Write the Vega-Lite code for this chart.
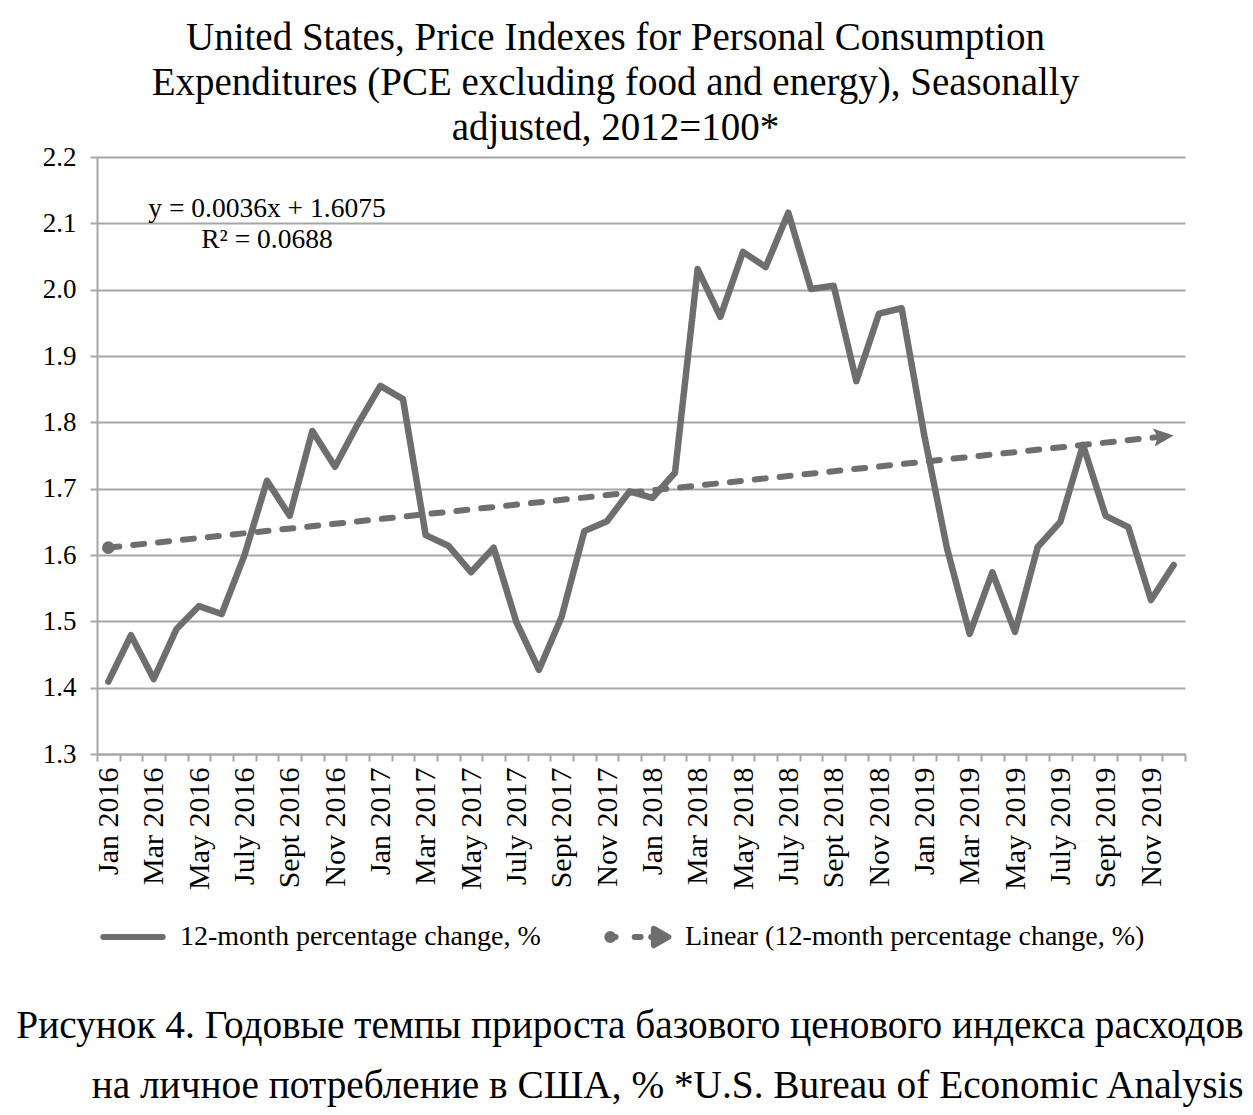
{
  "$schema": "https://vega.github.io/schema/vega-lite/v6.json",
  "background": "white",
  "padding": {"left": 16, "top": 19, "right": 10, "bottom": 10},
  "config": {
    "font": "Liberation Serif",
    "view": {"stroke": null},
    "title": {"font": "Liberation Serif", "fontWeight": "normal", "color": "black"}
  },
  "title": {
    "text": ["Рисунок 4. Годовые темпы прироста базового ценового индекса расходов", "на личное потребление в США, % *U.S. Bureau of Economic Analysis"],
    "orient": "bottom",
    "anchor": "end",
    "align": "right",
    "dx": 55,
    "fontSize": 39.3,
    "lineHeight": 60,
    "offset": 56
  },
  "datasets": {
    "pce": [
      {"month": "Jan 2016", "value": 1.409, "series": "12-month percentage change, %"},
      {"month": "Feb 2016", "value": 1.479, "series": "12-month percentage change, %"},
      {"month": "Mar 2016", "value": 1.413, "series": "12-month percentage change, %"},
      {"month": "Apr 2016", "value": 1.488, "series": "12-month percentage change, %"},
      {"month": "May 2016", "value": 1.523, "series": "12-month percentage change, %"},
      {"month": "June 2016", "value": 1.511, "series": "12-month percentage change, %"},
      {"month": "July 2016", "value": 1.599, "series": "12-month percentage change, %"},
      {"month": "Aug 2016", "value": 1.712, "series": "12-month percentage change, %"},
      {"month": "Sept 2016", "value": 1.659, "series": "12-month percentage change, %"},
      {"month": "Oct 2016", "value": 1.787, "series": "12-month percentage change, %"},
      {"month": "Nov 2016", "value": 1.733, "series": "12-month percentage change, %"},
      {"month": "Dec 2016", "value": 1.797, "series": "12-month percentage change, %"},
      {"month": "Jan 2017", "value": 1.855, "series": "12-month percentage change, %"},
      {"month": "Feb 2017", "value": 1.835, "series": "12-month percentage change, %"},
      {"month": "Mar 2017", "value": 1.630, "series": "12-month percentage change, %"},
      {"month": "Apr 2017", "value": 1.614, "series": "12-month percentage change, %"},
      {"month": "May 2017", "value": 1.574, "series": "12-month percentage change, %"},
      {"month": "June 2017", "value": 1.611, "series": "12-month percentage change, %"},
      {"month": "July 2017", "value": 1.499, "series": "12-month percentage change, %"},
      {"month": "Aug 2017", "value": 1.427, "series": "12-month percentage change, %"},
      {"month": "Sept 2017", "value": 1.507, "series": "12-month percentage change, %"},
      {"month": "Oct 2017", "value": 1.636, "series": "12-month percentage change, %"},
      {"month": "Nov 2017", "value": 1.651, "series": "12-month percentage change, %"},
      {"month": "Dec 2017", "value": 1.696, "series": "12-month percentage change, %"},
      {"month": "Jan 2018", "value": 1.686, "series": "12-month percentage change, %"},
      {"month": "Feb 2018", "value": 1.724, "series": "12-month percentage change, %"},
      {"month": "Mar 2018", "value": 2.031, "series": "12-month percentage change, %"},
      {"month": "Apr 2018", "value": 1.959, "series": "12-month percentage change, %"},
      {"month": "May 2018", "value": 2.057, "series": "12-month percentage change, %"},
      {"month": "June 2018", "value": 2.034, "series": "12-month percentage change, %"},
      {"month": "July 2018", "value": 2.116, "series": "12-month percentage change, %"},
      {"month": "Aug 2018", "value": 2.001, "series": "12-month percentage change, %"},
      {"month": "Sept 2018", "value": 2.006, "series": "12-month percentage change, %"},
      {"month": "Oct 2018", "value": 1.862, "series": "12-month percentage change, %"},
      {"month": "Nov 2018", "value": 1.964, "series": "12-month percentage change, %"},
      {"month": "Dec 2018", "value": 1.972, "series": "12-month percentage change, %"},
      {"month": "Jan 2019", "value": 1.780, "series": "12-month percentage change, %"},
      {"month": "Feb 2019", "value": 1.610, "series": "12-month percentage change, %"},
      {"month": "Mar 2019", "value": 1.481, "series": "12-month percentage change, %"},
      {"month": "Apr 2019", "value": 1.574, "series": "12-month percentage change, %"},
      {"month": "May 2019", "value": 1.484, "series": "12-month percentage change, %"},
      {"month": "June 2019", "value": 1.612, "series": "12-month percentage change, %"},
      {"month": "July 2019", "value": 1.650, "series": "12-month percentage change, %"},
      {"month": "Aug 2019", "value": 1.766, "series": "12-month percentage change, %"},
      {"month": "Sept 2019", "value": 1.659, "series": "12-month percentage change, %"},
      {"month": "Oct 2019", "value": 1.642, "series": "12-month percentage change, %"},
      {"month": "Nov 2019", "value": 1.532, "series": "12-month percentage change, %"},
      {"month": "Dec 2019", "value": 1.585, "series": "12-month percentage change, %"}
    ],
    "trend": [
      {"month": "Jan 2016", "value": 1.6111, "marker": "start", "series": "Linear (12-month percentage change, %)"},
      {"month": "Dec 2019", "value": 1.7803, "marker": "end", "series": "Linear (12-month percentage change, %)"}
    ],
    "eq": [
      {"month": "Aug 2016", "value": 2.122, "label": "y = 0.0036x + 1.6075"},
      {"month": "Aug 2016", "value": 2.075, "label": "R² = 0.0688"}
    ]
  },
  "vconcat": [
    {
      "width": 1088,
      "height": 597,
      "title": {
        "text": ["United States, Price Indexes for Personal Consumption", "Expenditures (PCE excluding food and energy), Seasonally", "adjusted, 2012=100*"],
        "fontSize": 39,
        "lineHeight": 45,
        "anchor": "middle",
        "frame": "bounds",
        "offset": -5
      },
      "encoding": {
        "x": {
          "field": "month",
          "type": "ordinal",
          "sort": null,
          "bandPosition": 0.5,
          "scale": {
            "type": "band",
            "paddingInner": 0,
            "paddingOuter": 0,
            "domain": ["Jan 2016","Feb 2016","Mar 2016","Apr 2016","May 2016","June 2016","July 2016","Aug 2016","Sept 2016","Oct 2016","Nov 2016","Dec 2016","Jan 2017","Feb 2017","Mar 2017","Apr 2017","May 2017","June 2017","July 2017","Aug 2017","Sept 2017","Oct 2017","Nov 2017","Dec 2017","Jan 2018","Feb 2018","Mar 2018","Apr 2018","May 2018","June 2018","July 2018","Aug 2018","Sept 2018","Oct 2018","Nov 2018","Dec 2018","Jan 2019","Feb 2019","Mar 2019","Apr 2019","May 2019","June 2019","July 2019","Aug 2019","Sept 2019","Oct 2019","Nov 2019","Dec 2019"]
          },
          "axis": {
            "title": null,
            "labelAngle": 270,
            "labelExpr": "test(/^(Jan|Mar|May|July|Sept|Nov) /, datum.label) ? datum.label : ''",
            "tickBand": "extent",
            "ticks": true,
            "tickSize": 7,
            "tickWidth": 2,
            "tickColor": "#a6a6a6",
            "domainColor": "#a6a6a6",
            "domainWidth": 2,
            "grid": false,
            "labelFont": "Liberation Serif",
            "labelFontSize": 30,
            "labelColor": "black",
            "labelPadding": 6,
            "labelOverlap": false,
            "labelLimit": 0
          }
        },
        "y": {
          "field": "value",
          "type": "quantitative",
          "scale": {"domain": [1.3, 2.2], "nice": false, "zero": false},
          "axis": {
            "title": null,
            "values": [1.3, 1.4, 1.5, 1.6, 1.7, 1.8, 1.9, 2.0, 2.1, 2.2],
            "format": ".1f",
            "grid": true,
            "gridColor": "#a6a6a6",
            "gridWidth": 2,
            "tickSize": 7,
            "tickWidth": 2,
            "tickColor": "#a6a6a6",
            "domainColor": "#a6a6a6",
            "domainWidth": 2,
            "labelFont": "Liberation Serif",
            "labelFontSize": 27,
            "labelColor": "black",
            "labelPadding": 14
          }
        }
      },
      "layer": [
        {
          "data": {"name": "pce"},
          "mark": {"type": "line", "strokeWidth": 6.5, "strokeJoin": "round", "strokeCap": "round"},
          "encoding": {
            "color": {
              "field": "series",
              "type": "nominal",
              "scale": {"domain": ["12-month percentage change, %", "Linear (12-month percentage change, %)"], "range": ["#6e6e6e", "#6e6e6e"]},
              "legend": {
                "orient": "bottom",
                "direction": "horizontal",
                "title": null,
                "labelFont": "Liberation Serif",
                "labelFontSize": 28,
                "labelColor": "black",
                "labelLimit": 0,
                "symbolSize": 4356,
                "symbolStrokeWidth": 6,
                "columnPadding": 61,
                "labelOffset": 11,
                "offset": 11,
                "encoding": {
                  "symbols": {
                    "shape": {"value": {"expr": "datum.value === '12-month percentage change, %' ? 'M-0.9,-0.25M-0.9,0.25M-0.9,0L0.9,0' : 'M-0.93,0a0.09,0.09 0 1,0 0.18,0a0.09,0.09 0 1,0 -0.18,0M-0.84,0L-0.68,0M-0.1,0L0.08,0M0.4,0L0.6,0M0.48,-0.25L0.92,0L0.48,0.25Z'"}},
                    "fill": {"value": "#6e6e6e"},
                    "stroke": {"value": "#6e6e6e"},
                    "strokeCap": {"value": "round"},
                    "strokeJoin": {"value": "round"}
                  }
                }
              }
            }
          }
        },
        {
          "data": {"name": "trend"},
          "mark": {"type": "line", "strokeWidth": 6, "strokeDash": [11, 14], "strokeCap": "round"},
          "encoding": {
            "color": {"field": "series", "type": "nominal"}
          }
        },
        {
          "data": {"name": "trend"},
          "transform": [{"filter": "datum.marker === 'start'"}],
          "mark": {"type": "point", "shape": "circle", "filled": true, "size": 160, "color": "#6e6e6e", "opacity": 1},
          "encoding": {}
        },
        {
          "data": {"name": "trend"},
          "transform": [{"filter": "datum.marker === 'end'"}],
          "mark": {"type": "point", "shape": "M-1,-0.45L0,0L-1,0.45L-0.8,0Z", "filled": true, "size": 1600, "angle": -6, "color": "#6e6e6e", "opacity": 1},
          "encoding": {}
        },
        {
          "data": {"name": "eq"},
          "mark": {"type": "text", "font": "Liberation Serif", "fontSize": 27.5, "color": "black", "align": "center", "baseline": "middle"},
          "encoding": {"text": {"field": "label"}}
        }
      ]
    }
  ]
}
